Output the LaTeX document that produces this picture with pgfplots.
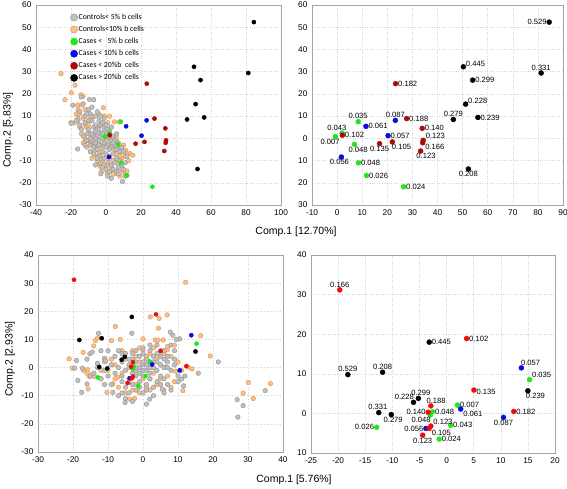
\documentclass[border=0pt]{standalone}
\usepackage{fontspec}
\setmainfont{Liberation Sans}
\newfontfamily\carlito{Carlito}
\usepackage{pgfplots}
\usepackage{pgfplotstable}
\pgfplotsset{compat=1.18}

\definecolor{cgray}{RGB}{192,192,192}
\definecolor{cgrayedge}{RGB}{145,145,145}
\definecolor{corange}{RGB}{250,192,135}
\definecolor{corangeedge}{RGB}{222,148,80}
\definecolor{cgreen}{RGB}{30,232,30}
\definecolor{cblue}{RGB}{10,10,225}
\definecolor{cdred}{RGB}{175,10,10}
\definecolor{cred}{RGB}{240,12,12}
\definecolor{axgray}{RGB}{165,165,165}
\definecolor{gridgray}{RGB}{212,212,212}

\pgfplotsset{
  panel/.style={
    scale only axis,
    axis line style={draw=axgray, line width=0.8pt},
    grid=major,
    major grid style={dotted, draw=gridgray, line width=0.5pt},
    major tick length=0pt,
    tick label style={font=\fontsize{8.3}{9}\selectfont},
    /pgf/number format/assume math mode=true,
    xticklabel style={yshift=-1pt},
    yticklabel style={xshift=-1pt},
  },
  ctrlgray/.style={only marks, mark=*, mark size=2.3pt,
    mark options={draw=cgrayedge, fill=cgray, line width=0.4pt}},
  ctrlorange/.style={only marks, mark=*, mark size=2.3pt,
    mark options={draw=corangeedge, fill=corange, line width=0.4pt}},
  casept/.style={only marks, mark=*, mark size=2.1pt, color=#1,
    mark options={draw=#1, fill=#1}},
  labpt/.style={only marks, mark=*, mark size=2.5pt, color=#1,
    mark options={draw=#1, fill=#1},
    nodes near coords, point meta=explicit symbolic,
    every node near coord/.append style={anchor=\anc,
      font=\fontsize{7.6}{8}\selectfont, text=black, inner sep=2.4pt}},
}

\begin{document}
\begin{tikzpicture}
\path[use as bounding box] (0,0) rectangle (567pt,488pt);

% ================= TOP LEFT =================
\begin{axis}[panel, at={(36pt,283pt)}, anchor=south west,
  width=245pt, height=200pt,
  xmin=-40, xmax=100, ymin=-30, ymax=60,
  xtick={-40,-20,...,100}, ytick={-30,-20,...,60},
  legend style={at={(rel axis cs:0.14,0.962)}, anchor=north west,
    draw=none, fill=none, inner sep=0pt,
    font=\carlito\fontsize{7.8}{8}\selectfont,
    nodes={inner sep=1pt, text height=5.6pt, text depth=1.6pt},
    row sep=2.9pt, legend cell align=left},
  legend image code/.code={\draw[#1] plot coordinates {(0.18cm,0cm)};},
]
\addlegendimage{only marks, mark=*, mark size=3.6pt, draw=cgrayedge, fill=cgray}
\addlegendentry{Controls< 5\% b cells}
\addlegendimage{only marks, mark=*, mark size=3.6pt, draw=corangeedge, fill=corange}
\addlegendentry{Controls<10\% b cells}
\addlegendimage{only marks, mark=*, mark size=3.6pt, draw=cgreen, fill=cgreen}
\addlegendentry{Cases <\ \ \ 5\% b cells}
\addlegendimage{only marks, mark=*, mark size=3.6pt, draw=cblue, fill=cblue}
\addlegendentry{Cases < 10\% b cells}
\addlegendimage{only marks, mark=*, mark size=3.6pt, draw=cdred, fill=cdred}
\addlegendentry{Cases < 20\%b\ \ cells}
\addlegendimage{only marks, mark=*, mark size=3.6pt, draw=black, fill=black}
\addlegendentry{Cases > 20\%b\ \ cells}

\addplot[ctrlorange, forget plot] coordinates {
(-25.7,29.1)(-17.7,23.9)(-19.8,20.5)(-23.4,17.4)(-14.3,19.6)(-13.1,18.9)
(-16.2,15)(-1.5,13.8)(4.8,7.4)(7.6,7.4)(11.4,-5.5)(13.7,-6.9)(15.4,-7.6)
(-2.7,-15.2)(0.6,-15.5)(7.2,-14.4)(-4,-11.4)(12,-14.7)(-17,11)(-16,8)
(-18,7)(-15,5)(-12,6)(-13,9)(-11,5)(-14,2)(-12,0)(-10,-1)(-13,-2)(-11,-4)
(-9,2)(-8,-2)(-7,-6)(-6,-8)(-5,-10)(-8,-9)(-6,-4)(-4,-6)(-3,-8)(-2,-10)
(-1,-12)(1,-12)(3,-13)(5,-16)(8,-17)(10,-15)(9,-9)(11,-8)(12,-7)(10,-3)
(8,-4)(6,-7)(4,-10)(2,-9)(6,0)(3,1)(1,7)(-1,10)(-4,11)(-7,10)(-9,9)(-10,6)
(-7,1)(-2,-4)(0,-1)(5,-5)(2,-3)(-14,15)(-15,11)(-3,-13)(7,-11)(13,-10)
(-20,7)(-16,13)(-12,13)(4,-16)(8,-8)(-5,5)(2,10)(3,5)
};
\addplot[ctrlgray, forget plot] coordinates {
(-9.5,17.5)(-7,17.4)(-14.1,18.6)(-13,15.5)(-10,13)(-9,11)(-12,10)(-19,14.9)
(-19.8,6.75)(-16.2,-4.8)(-15,12)(-12,7)(-8,8)(-6,10)(-5,12)(-4,8)(-3,6)
(-2,7)(-1,5)(0,6)(1,4)(-7,5)(-10,4)(-11,2)(-8,2)(-6,3)(-5,1)(-3,2)(-2,0)
(0,1)(2,0)(3,-1)(-4,-1)(-6,-2)(-8,-1)(-9,-3)(-7,-4)(-5,-5)(-3,-3)(-1,-2)
(1,-3)(3,-4)(5,-3)(6,-5)(8,-6)(-2,-6)(0,-7)(2,-8)(4,-7)(6,-9)(8,-10)(-4,-8)
(-1,-9)(1,-11)(3,-12)(5,-11)(7,-13)(9,-12)(10,-14)(12,-16.7)(9.5,-19.4)
(11,-17)(4,-14)(6,-15)(-3,-11)(-5,-9)(-2,-13)(0,-14)(2,-15)(-7,-7)(-9,-6)
(-11,-1)(-13,1)(-14,4)(-12,-3)(-10,8)(-11,11)(-16,9)(-8,14)(-6,0)(-4,4)
(-1,3)(2,3)(4,1)(5,-1)(7,-2)(9,-4)(10,-6)(12,-8)(-3,-16)(1,-17)(-6,-12)
(7,-16)(3,-18)(11,-11)(-2,2)(0,-4)(2,-5)(-4,-3)(-6,6)(4,-2)(-9,0)(-15,6)
(-17,8)(6,2)(3,5)(-1,9)(-3,10)
};
\addplot[casept=cgreen, forget plot] coordinates {
(8.4,7.5)(2.0,2.4)(-0.7,0.75)(6.9,-2.7)(8.5,-11.0)(11.7,-16.7)(26.5,-21.8)};
\addplot[casept=cblue, forget plot] coordinates {
(23.2,8.1)(11.5,5.4)(20.3,1.2)(1.7,-8.4)};
\addplot[casept=cdred, forget plot] coordinates {
(23.3,24.6)(27.7,8.9)(33.9,4.5)(34.3,-0.9)(34.1,-2.0)(33.3,-5.7)(22.0,-1.6)(16.9,-2.4)(2.1,1.4)};
\addplot[casept=black, forget plot] coordinates {
(84.5,52.3)(81.3,29.4)(50.3,32.2)(54.0,26.2)(51.2,15.4)(46.3,8.5)(56.1,9.4)(52.3,-13.8)};
\end{axis}

% ================= TOP RIGHT =================
\begin{axis}[panel, at={(312pt,283pt)}, anchor=south west,
  width=251pt, height=200pt,
  xmin=-10, xmax=90, ymin=-30, ymax=60,
  xtick={-10,0,...,90}, ytick={-30,-20,...,60},
  yticklabels={30,20,10,0,10,20,30,40,50,60},
]
\addplot[labpt=cgreen, visualization depends on={value \thisrow{anc}\as\anc}]
  table[x=x,y=y,meta=lab]{
x y lab anc
8.4 7.5 0.035 270
2.0 2.4 0.043 315
-0.7 0.75 0.007 45
6.9 -2.7 0.048 125
8.5 -11.0 0.048 180
11.7 -16.7 0.026 180
26.5 -21.8 0.024 180
};
\addplot[labpt=cblue, visualization depends on={value \thisrow{anc}\as\anc}]
  table[x=x,y=y,meta=lab]{
x y lab anc
23.2 8.1 0.087 270
11.5 5.4 0.061 180
20.3 1.2 0.057 180
1.7 -8.4 0.056 70
};
\addplot[labpt=cdred, visualization depends on={value \thisrow{anc}\as\anc}]
  table[x=x,y=y,meta=lab]{
x y lab anc
23.3 24.6 0.182 180
27.7 8.9 0.188 180
33.9 4.5 0.140 180
34.3 -0.9 0.123 200
34.1 -2.0 0.166 160
33.3 -5.7 0.123 135
22.0 -1.6 0.105 150
16.9 -2.4 0.135 90
2.1 1.4 0.102 180
};
\addplot[labpt=black, visualization depends on={value \thisrow{anc}\as\anc}]
  table[x=x,y=y,meta=lab]{
x y lab anc
84.5 52.3 0.529 0
81.3 29.4 0.331 270
50.3 32.2 0.445 195
54.0 26.2 0.299 180
51.2 15.4 0.228 195
46.3 8.5 0.279 270
56.1 9.4 0.239 180
52.3 -13.8 0.208 90
};
\end{axis}

% ================= BOTTOM LEFT =================
\begin{axis}[panel, at={(38pt,36pt)}, anchor=south west,
  width=245pt, height=197pt,
  xmin=-30, xmax=40, ymin=-30, ymax=40,
  xtick={-30,-20,...,40}, ytick={-30,-20,...,40},
]
\addplot[ctrlorange] coordinates {
(12.2,30.3)(2.1,18)(4.6,17.5)(6.9,18.7)(4.4,14)(-7.9,14.6)(-6.5,10)(-9,9.6)
(-13.6,9.6)(-14.1,7.7)(-13,10.5)(-17.1,5.4)(-21.1,3.1)(-20.2,-0.2)(-15.8,-0.8)
(-14.8,-2.6)(-15.3,-3.2)(-13.9,-3.2)(-15.7,-7.6)(-10.3,-8.8)(-8.6,-5.8)
(-7.2,-3.4)(16.5,11.3)(19.2,4.1)(30.1,-5.3)(28.6,-9.1)(31.5,-11)(36.4,-5.7)
(11.4,-8.2)(9.3,-1.3)(-3.8,-11.2)(-2.4,-11)(0,10.2)(3.5,9.8)(5.8,9.8)(4.3,9.7)
(7,6.3)(6.5,0.2)(2,-4)(1,4)(12.9,0.2)(-12,-4)(-10,-1)(-8,1)(-6,-2)(-5,3)
(-4,-5)(-3,-8)(-2,-6)(-1,2)(0,-4)(1,-7)(2,5)(3,-2)(4,3)(5,-4)(6,5)(7,-3)
(8,4)(9,-5)(10,2)(-1,7)(3,7)(5,6)(-2,4)(-4,0)(-6,6)(-9,3)(-11,2)(-7,-7)
(-5,-9)(8,-7)(11,-1)(-12,-1)(-16,-2)(14,-0.5)(-3,6)(-1,-9)(6,-8)(9,8)(-8,-4)
(4,-6)(0,6)(2,-8)(7,7.5)(-17,-1)
};
\addplot[ctrlgray] coordinates {
(-12.7,12.2)(-3.2,12.2)(7.8,12.6)(8.5,11.5)(10.5,10.2)(9.5,10)(21.5,2)
(15.8,-2)(26.9,-11.4)(27.1,-17.6)(28.6,-13.5)(34.9,-8.2)(-18.6,-4.6)
(-17.5,-8.8)(-16,-5.8)(-19,2.5)(-19.5,-0.2)(-17.3,-0.2)(-15.2,4.9)
(-14.5,5.5)(-11,3.3)(-10.7,2.4)(-8.6,-8.8)(-5.1,-12.4)(1.9,-11.2)(5.5,-7.7)
(11,-4.1)(11.6,-6.5)(-14,-2)(-12,-4)(-10,-3)(-8,-2)(-7,0)(-6,2)(-5,-1)
(-4,1)(-3,3)(-2,2)(-1,0)(0,1)(1,-1)(2,0)(3,2)(4,-1)(5,1)(6,0)(7,2)(8,-1)
(9,1)(10,-3)(-4,-4)(-3,-6)(-2,-3)(-1,-5)(0,-3)(1,-6)(2,-4)(3,-7)(4,-5)
(5,-3)(6,-4)(7,-6)(-6,-5)(-5,-7)(-4,-9)(-2,-8)(0,-9)(-7,-10)(-5,-11)(-1,4)
(0,5)(1,3)(2,6)(3,4)(4,5)(5,4)(6,6)(7,4)(8,8)(9,6)(-2,6)(-3,5)(-4,3)(-6,5)
(-8,4)(-9,1)(-11,-1)(-13,0)(-16,3)(-13,1.5)(2,-2)(-1,-2)(0,-1)(1,1)(3,0)
(-2,-1)(-3,-2)(4,2)(6,3)(-6,-3)(-9,-6)(-11,-6)(3,-10)(6,-9)(8,-8)(12,-3)
(10,-5)(-7,6)(-5,5)(2,8)(4,8)(0,7)(-1,-7)(1,-8)(-3,0)(5,-6)(7,0)(9,3)(-10,6)
(-15,-3)(-12,6)(1,-13)(-3,-12)(-6,-9)(0,2)(-2,0)(2,2)
};
\addplot[casept=cgreen] coordinates {
(15.3,8.5)(2.0,2.1)(-2.6,0.4)(-3.0,-0.4)(0.75,-3.0)(-1.35,-6.5)(-12.9,-3.5)};
\addplot[casept=cblue] coordinates {
(13.8,11.5)(2.6,1.1)(-3.8,-3.8)(10.5,-1.0)};
\addplot[casept=cred] coordinates {
(-19.7,31.2)(3.7,18.9)(5.05,5.9)(-2.9,1.9)(-3.4,0.3)(-2.9,-3.2)(-3.2,-3.8)(-4.4,-5.5)(12.4,0.5)};
\addplot[casept=black] coordinates {
(-3.2,18.0)(-18.2,9.8)(-11.8,10.4)(15.0,5.7)(-5.2,3.8)(-6.1,2.8)(-12.5,0.2)(-10.2,-0.3)};
\end{axis}

% ================= BOTTOM RIGHT =================
\begin{axis}[panel, at={(311pt,35pt)}, anchor=south west,
  width=244pt, height=198pt,
  xmin=-25, xmax=20, ymin=-10, ymax=40,
  xtick={-25,-20,...,20}, ytick={-10,0,...,40},
  yticklabels={10,0,10,20,30,40},
]
\addplot[labpt=cgreen, visualization depends on={value \thisrow{anc}\as\anc}]
  table[x=x,y=y,meta=lab]{
x y lab anc
15.3 8.5 0.035 200
2.0 2.1 0.007 180
-2.6 0.4 0.048 180
-3.0 -0.4 0.048 30
0.75 -3.0 0.043 180
-1.35 -6.5 0.024 180
-12.9 -3.5 0.026 0
};
\addplot[labpt=cblue, visualization depends on={value \thisrow{anc}\as\anc}]
  table[x=x,y=y,meta=lab]{
x y lab anc
13.8 11.5 0.057 210
2.6 1.1 0.061 160
-3.8 -3.8 0.056 0
10.5 -1.0 0.087 90
};
\addplot[labpt=cred, visualization depends on={value \thisrow{anc}\as\anc}]
  table[x=x,y=y,meta=lab]{
x y lab anc
-19.7 31.2 0.166 270
3.7 18.9 0.102 180
5.05 5.9 0.135 170
-2.9 1.9 0.188 225
-3.4 0.3 0.140 0
-2.9 -3.2 0.123 200
-3.2 -3.8 0.105 160
-4.4 -5.5 0.123 90
12.4 0.5 0.182 180
};
\addplot[labpt=black, visualization depends on={value \thisrow{anc}\as\anc}]
  table[x=x,y=y,meta=lab]{
x y lab anc
-3.2 18.0 0.445 180
-18.2 9.8 0.529 270
-11.8 10.4 0.208 270
15.0 5.7 0.239 145
-5.2 3.8 0.299 245
-6.1 2.8 0.228 330
-12.5 0.2 0.331 280
-10.2 -0.3 0.279 110
};
\end{axis}

% axis titles
\node[rotate=90, font=\fontsize{10.5}{12}\selectfont] at (8pt,358pt) {Comp.2 [5.83\%]};
\node[font=\fontsize{10.5}{12}\selectfont] at (296pt,256pt) {Comp.1 [12.70\%]};
\node[rotate=90, font=\fontsize{10.5}{12}\selectfont] at (10pt,129pt) {Comp.2 [2.93\%]};
\node[font=\fontsize{10.5}{12}\selectfont] at (294pt,8pt) {Comp.1 [5.76\%]};
\end{tikzpicture}
\end{document}
